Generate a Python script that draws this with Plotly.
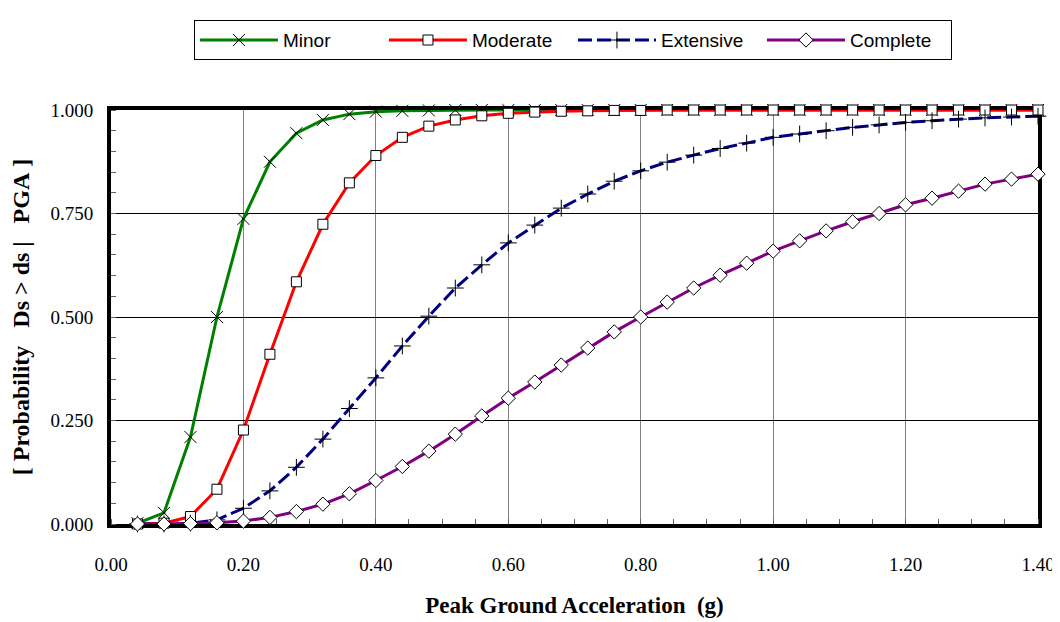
import plotly.graph_objects as go

pga = [0.04, 0.08, 0.12, 0.16, 0.20, 0.24, 0.28, 0.32, 0.36, 0.40, 0.44, 0.48,
       0.52, 0.56, 0.60, 0.64, 0.68, 0.72, 0.76, 0.80, 0.84, 0.88, 0.92, 0.96,
       1.00, 1.04, 1.08, 1.12, 1.16, 1.20, 1.24, 1.28, 1.32, 1.36, 1.40]

minor = [0.002, 0.027, 0.21, 0.50, 0.737, 0.875, 0.944, 0.976, 0.990, 0.996, 0.998, 0.999,
         1.0, 1.0, 1.0, 1.0, 1.0, 1.0, 1.0, 1.0, 1.0, 1.0, 1.0, 1.0,
         1.0, 1.0, 1.0, 1.0, 1.0, 1.0, 1.0, 1.0, 1.0, 1.0, 1.0]

moderate = [0.0, 0.002, 0.018, 0.084, 0.227, 0.41, 0.585, 0.724, 0.824, 0.89, 0.934, 0.961,
            0.976, 0.986, 0.992, 0.995, 0.997, 0.998, 0.999, 0.999, 1.0, 1.0, 1.0, 1.0,
            1.0, 1.0, 1.0, 1.0, 1.0, 1.0, 1.0, 1.0, 1.0, 1.0, 1.0]

extensive = [0.0, 0.0, 0.002, 0.01, 0.038, 0.08, 0.137, 0.205, 0.279, 0.353, 0.43, 0.502,
             0.57, 0.626, 0.679, 0.722, 0.763, 0.797, 0.828, 0.853, 0.874, 0.891, 0.907, 0.92,
             0.934, 0.942, 0.95, 0.958, 0.964, 0.97, 0.974, 0.978, 0.981, 0.983, 0.985]

complete = [0.0, 0.0, 0.001, 0.003, 0.007, 0.016, 0.03, 0.048, 0.073, 0.105, 0.139, 0.176,
            0.217, 0.261, 0.304, 0.343, 0.384, 0.425, 0.464, 0.5, 0.536, 0.57, 0.601, 0.63,
            0.659, 0.684, 0.708, 0.73, 0.75, 0.771, 0.787, 0.804, 0.821, 0.833, 0.845]

names = ["Minor", "Moderate", "Extensive", "Complete"]
series = [minor, moderate, extensive, complete]
x_ticks = [0.0, 0.2, 0.4, 0.6, 0.8, 1.0, 1.2, 1.4]
y_ticks = [0.0, 0.25, 0.5, 0.75, 1.0]

NB = "\u00a0"
x_title = f"<b>Peak Ground Acceleration{NB}{NB}(g)</b>"
y_title = f"<b>[{NB}Probability{NB}{NB}{NB}Ds{NB}>{NB}ds{NB}|{NB}{NB}{NB}PGA{NB}]</b>"

styles = [
    dict(color="#008000", dash="solid",
         marker=dict(symbol="x-thin-open", size=12, color="black", line=dict(color="black", width=1))),
    dict(color="#FF0000", dash="solid",
         marker=dict(symbol="square", size=10, color="white", line=dict(color="black", width=1))),
    dict(color="#000080", dash="14px,5px",
         marker=dict(symbol="cross-thin-open", size=12, color="black", line=dict(color="black", width=1))),
    dict(color="#800080", dash="solid",
         marker=dict(symbol="diamond", size=11, color="white", line=dict(color="black", width=1))),
]

fig = go.Figure()
for name, ys, st in zip(names, series, styles):
    fig.add_trace(go.Scatter(
        x=pga, y=ys, name=name, mode="lines+markers",
        line=dict(color=st["color"], width=3, dash=st["dash"]),
        marker=st["marker"], cliponaxis=False,
    ))

# the page body adds an 8px offset, so the figure is sized to fill the rest of the window
fig.update_layout(
    width=1052, height=614,
    margin=dict(l=103, r=22, t=102, b=98, autoexpand=False),
    paper_bgcolor="white", plot_bgcolor="white",
    font=dict(family="Liberation Serif", size=19, color="black"),
    showlegend=True,
    legend=dict(
        orientation="h", x=0.0895, y=1.217, xanchor="left", yanchor="top",
        bordercolor="black", borderwidth=1, bgcolor="white",
        font=dict(family="Liberation Sans", size=19, color="black"),
        itemwidth=78, entrywidth=96, entrywidthmode="pixels",
        traceorder="normal",
    ),
    xaxis=dict(
        range=[0, 1.4], tickvals=x_ticks, tickformat=".2f",
        showgrid=True, gridcolor="#808080", gridwidth=1,
        showline=True, linecolor="black", linewidth=4, mirror=True,
        ticks="", ticklabelstandoff=20, zeroline=False, automargin=False,
        layer="below traces",
        minor=dict(ticks="inside", dtick=0.05, ticklen=5, tickcolor="#606060", showgrid=False),
        title=dict(text=x_title, standoff=24,
                   font=dict(family="Liberation Serif", size=23)),
    ),
    yaxis=dict(
        range=[0, 1.0], tickvals=y_ticks, tickformat=".3f",
        showgrid=True, gridcolor="black", gridwidth=1,
        showline=True, linecolor="black", linewidth=4, mirror=True,
        ticks="", ticklabelstandoff=10, zeroline=False, automargin=False,
        layer="below traces",
        minor=dict(ticks="inside", dtick=0.05, ticklen=5, tickcolor="#606060", showgrid=False),
        title=dict(text=y_title, standoff=15,
                   font=dict(family="Liberation Serif", size=24)),
    ),
)

fig.write_html("out.html")
